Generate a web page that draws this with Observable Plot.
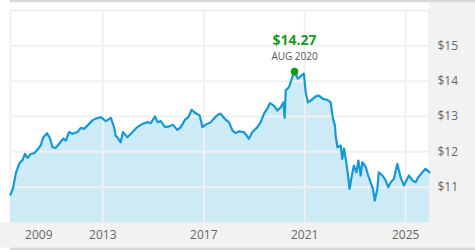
<!DOCTYPE html>
<html>
<head>
<meta charset="utf-8">
<script src="https://cdn.jsdelivr.net/npm/d3@7"></script>
<script src="https://cdn.jsdelivr.net/npm/@observablehq/plot@0.6"></script>
<style>
  html, body { margin: 0; padding: 0; background: #ffffff; }
  #chart { width: 475px; height: 250px; }
</style>
</head>
<body>
<div id="chart"></div>
<script>
const dates = [
  "2009-05-06","2009-06-13","2009-07-22","2009-09-08","2009-10-27","2009-12-02",
  "2010-01-08","2010-02-24","2010-04-13","2010-05-30","2010-07-16","2010-08-22","2010-10-16","2010-11-25",
  "2011-01-04","2011-02-21","2011-04-09","2011-06-07","2011-07-15","2011-08-31","2011-10-20",
  "2012-01-01","2012-02-17","2012-04-05","2012-06-06","2012-08-04","2012-09-20","2012-12-02",
  "2013-02-14","2013-04-28","2013-06-14","2013-07-05","2013-08-14","2013-09-16","2013-10-19","2013-12-24",
  "2014-03-07","2014-05-16","2014-07-28","2014-10-09","2014-11-25",
  "2015-01-26","2015-03-04","2015-04-20","2015-06-21","2015-08-18","2015-10-12","2015-12-17",
  "2016-02-03","2016-04-06","2016-05-23","2016-07-09","2016-09-06","2016-11-03","2016-12-13",
  "2017-01-30","2017-04-13","2017-06-14","2017-08-04","2017-09-02","2017-11-14",
  "2018-01-01","2018-02-21","2018-04-09","2018-05-27","2018-08-08","2018-10-16","2018-12-06",
  "2019-02-17","2019-04-05","2019-05-23","2019-07-09","2019-08-18","2019-10-12","2019-12-02",
  "2020-01-19","2020-02-28","2020-03-17","2020-04-01","2020-05-18","2020-07-05","2020-08-07","2020-09-24","2020-11-14","2020-12-20",
  "2021-01-15","2021-02-17","2021-03-29","2021-06-10","2021-07-28","2021-09-20","2021-11-25",
  "2022-01-12","2022-02-14","2022-03-14","2022-03-25","2022-04-20","2022-06-06","2022-06-28","2022-07-24","2022-08-25","2022-09-24","2022-10-12","2022-11-10","2022-12-13",
  "2023-01-19","2023-02-17","2023-03-22","2023-04-16","2023-06-03","2023-07-09","2023-08-11","2023-09-16","2023-10-12","2023-11-18","2023-12-09",
  "2024-01-30","2024-03-17","2024-04-23","2024-05-30","2024-07-16","2024-09-02","2024-10-19","2024-12-06",
  "2025-01-12","2025-02-17","2025-04-09","2025-05-27","2025-07-02","2025-08-30","2025-10-16","2025-12-12"
];
const prices = [
  10.79,10.98,11.39,11.66,11.77,11.94,
  11.83,11.94,11.96,12.06,12.18,12.40,12.53,12.40,
  12.13,12.11,12.23,12.37,12.32,12.56,12.51,
  12.56,12.68,12.65,12.77,12.89,12.94,12.98,
  12.87,12.96,12.69,12.46,12.37,12.27,12.56,12.41,
  12.56,12.70,12.79,12.84,12.81,
  13.00,12.84,12.87,12.70,12.72,12.77,12.62,
  12.70,12.91,12.98,13.19,13.09,13.03,12.70,
  12.77,12.84,12.98,13.06,13.08,12.91,
  12.84,12.60,12.53,12.58,12.56,12.37,12.56,
  12.70,12.84,13.08,13.22,13.38,13.31,13.17,
  13.26,13.40,12.96,13.74,13.83,14.11,14.27,14.07,14.16,14.21,
  13.69,13.40,13.45,13.57,13.59,13.50,13.47,
  13.40,12.94,12.75,12.46,12.13,12.18,11.80,12.09,11.71,11.28,10.95,11.28,11.61,
  11.42,11.75,11.33,11.71,11.57,11.33,11.14,10.95,10.62,10.95,11.42,
  11.33,11.19,11.00,11.14,11.24,11.66,11.28,11.05,
  11.19,11.33,11.19,11.14,11.28,11.42,11.52,11.42
];
const yTicks = [11, 12, 13, 14, 15];
const gridYears = ["2013-01-01", "2017-01-01", "2021-01-01", "2025-01-01"];
const xTickDates = ["2010-06-20", "2013-01-01", "2017-01-01", "2021-01-01", "2025-01-01"];
const xTickLabels = ["2009", "2013", "2017", "2021", "2025"];
const peakDate = "2020-08-07";
const peakValue = 14.27;
const peakLabel = "$14.27";
const peakSubLabel = "AUG 2020";

const data = dates.map((d, i) => ({date: new Date(d), price: prices[i]}));
const peak = [{date: new Date(peakDate), price: peakValue}];

const font = "'Open Sans', 'Liberation Sans', Arial, sans-serif";

const chart = Plot.plot({
  width: 475,
  height: 250,
  marginLeft: 10,
  marginRight: 46,
  marginTop: 10,
  marginBottom: 28,
  style: {fontFamily: font, background: "transparent", overflow: "visible"},
  x: {type: "utc", domain: [data[0].date, data[data.length - 1].date], label: null},
  y: {domain: [10, 16], label: null},
  marks: [
    Plot.frame({stroke: "#efefef", strokeWidth: 2}),
    Plot.areaY(data, {x: "date", y1: 10, y2: "price", fill: "#cdeaf7"}),
    Plot.gridX(gridYears.map(d => new Date(d)), {stroke: "#f1f1f1", strokeOpacity: 1, strokeWidth: 2}),
    Plot.gridY(yTicks, {stroke: "#f1f1f1", strokeOpacity: 1, strokeWidth: 2}),
    Plot.lineY(data, {x: "date", y: "price", stroke: "#1499d8", strokeWidth: 2.2}),
    Plot.dot(peak, {x: "date", y: "price", r: 3.8, fill: "#159a15", stroke: "none"}),
    Plot.text(peak, {x: "date", y: "price", text: () => peakLabel, dy: -31, fill: "#1a9b1a", fontSize: 14, fontWeight: "bold"}),
    Plot.text(peak, {x: "date", y: "price", text: () => peakSubLabel, dy: -15, fill: "#555", fontSize: 10}),
    Plot.axisX(xTickDates.map(d => new Date(d)), {
      tickSize: 0, tickPadding: 8, fontSize: 12, color: "#666", label: null,
      tickFormat: (d, i) => xTickLabels[i]
    }),
    Plot.axisY(yTicks, {
      anchor: "right", tickSize: 0, tickPadding: 8, fontSize: 12, color: "#666", label: null,
      tickFormat: d => "$" + d
    })
  ]
});

// page decorations behind the chart
const svg = d3.select(chart);
const bg = svg.insert("g", ":first-child");
bg.append("rect").attr("x", 0).attr("y", 0).attr("width", 475).attr("height", 250).attr("fill", "#ffffff");
bg.append("rect").attr("x", 429).attr("y", 2).attr("width", 46).attr("height", 220).attr("fill", "#f2f2f2");
bg.append("rect").attr("x", 0).attr("y", 222).attr("width", 475).attr("height", 25.5).attr("fill", "#f2f2f2");
bg.append("rect").attr("x", 10).attr("y", 0).attr("width", 465).attr("height", 2.2).attr("fill", "#d8d8d8");
bg.append("rect").attr("x", 10).attr("y", 247.5).attr("width", 465).attr("height", 2.5).attr("fill", "#d8d8d8");

document.getElementById("chart").appendChild(chart);
</script>
</body>
</html>
